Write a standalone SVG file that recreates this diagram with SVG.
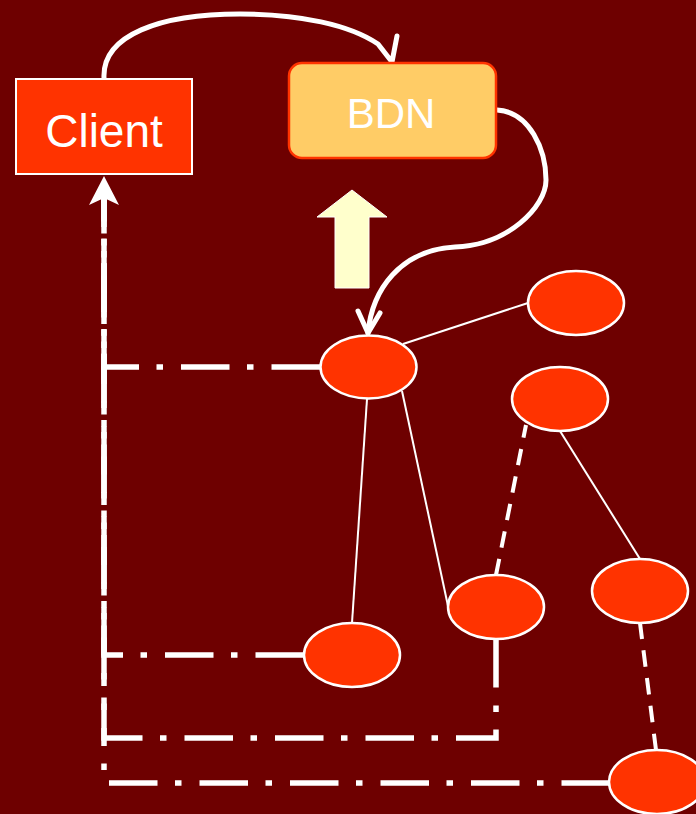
<svg xmlns="http://www.w3.org/2000/svg" width="696" height="814" viewBox="0 0 696 814">
<style>
.node{fill:#FF3300;stroke:#FFFFFF;stroke-width:2.5}
.lbl{font-family:"Liberation Sans",Arial,sans-serif;fill:#FFFFFF;text-anchor:middle}
.thin{fill:none;stroke:#FFFFFF;stroke-width:2}
.dash{fill:none;stroke:#FFFFFF;stroke-width:4;stroke-dasharray:16.5 11.5}
.dd{fill:none;stroke:#FFFFFF;stroke-width:5.5;stroke-dasharray:48.5 18 6.5 17.5;stroke-linejoin:miter}
.curve{fill:none;stroke:#FFFFFF;stroke-width:5;stroke-linecap:round;stroke-linejoin:round}
</style>
<rect x="0" y="0" width="696" height="814" fill="#6E0000"/>
<g id="connectors">
  <path class="dd" d="M320,367 H104 V198"/>
  <path class="dd" d="M304,655 H104 V198"/>
  <path class="dd" d="M496,639 V738 H104 V198"/>
  <path class="dd" d="M610,783 H104 V198"/>
  <polygon points="104,176 119,205 104,198 89,205" fill="#FFFFFF"/>
  <line class="thin" x1="403" y1="344" x2="528" y2="303"/>
  <line class="thin" x1="367" y1="399" x2="352" y2="623"/>
  <line class="thin" x1="402" y1="391" x2="448" y2="606"/>
  <line class="thin" x1="560" y1="431" x2="640" y2="559"/>
  <line class="dash" x1="496" y1="575" x2="526" y2="425"/>
  <line class="dash" x1="656" y1="750" x2="640" y2="623"/>
  <path class="curve" d="M104,78 C102,35 160,14 240,14 C300,14 350,25 378,44 L392,62 L397,36"/>
  <path class="curve" d="M497,110 C530,112 546,150 546,180 C546,207 508,245 455,247 C400,250 372,290 368,333"/>
  <polyline class="curve" points="358,311 368,333 380,313"/>
</g>
<g id="client">
  <rect x="16" y="79" width="176" height="95" fill="#FF3300" stroke="#FFFFFF" stroke-width="2"/>
  <text class="lbl" x="104" y="147" font-size="46">Client</text>
</g>
<g id="bdn">
  <rect x="289" y="63" width="207" height="95" rx="13" ry="13" fill="#FFCC66" stroke="#FF3300" stroke-width="2.5"/>
  <text class="lbl" x="391" y="128" font-size="42">BDN</text>
</g>
<g id="up-arrow">
  <polygon points="352,190 387,217 369,217 369,288 335,288 335,217 317,217" fill="#FFFFCC" stroke="#FFFFFF" stroke-width="1"/>
</g>
<g id="n1"><ellipse class="node" cx="368.5" cy="367" rx="48" ry="31.5"/></g>
<g id="n2"><ellipse class="node" cx="576" cy="303" rx="48" ry="32"/></g>
<g id="n3"><ellipse class="node" cx="560" cy="399" rx="48" ry="32"/></g>
<g id="n4"><ellipse class="node" cx="496" cy="607" rx="48" ry="32"/></g>
<g id="n5"><ellipse class="node" cx="640" cy="591" rx="48" ry="32"/></g>
<g id="n6"><ellipse class="node" cx="352" cy="655" rx="48" ry="32"/></g>
<g id="n7"><ellipse class="node" cx="657" cy="782" rx="48" ry="32"/></g>
</svg>
